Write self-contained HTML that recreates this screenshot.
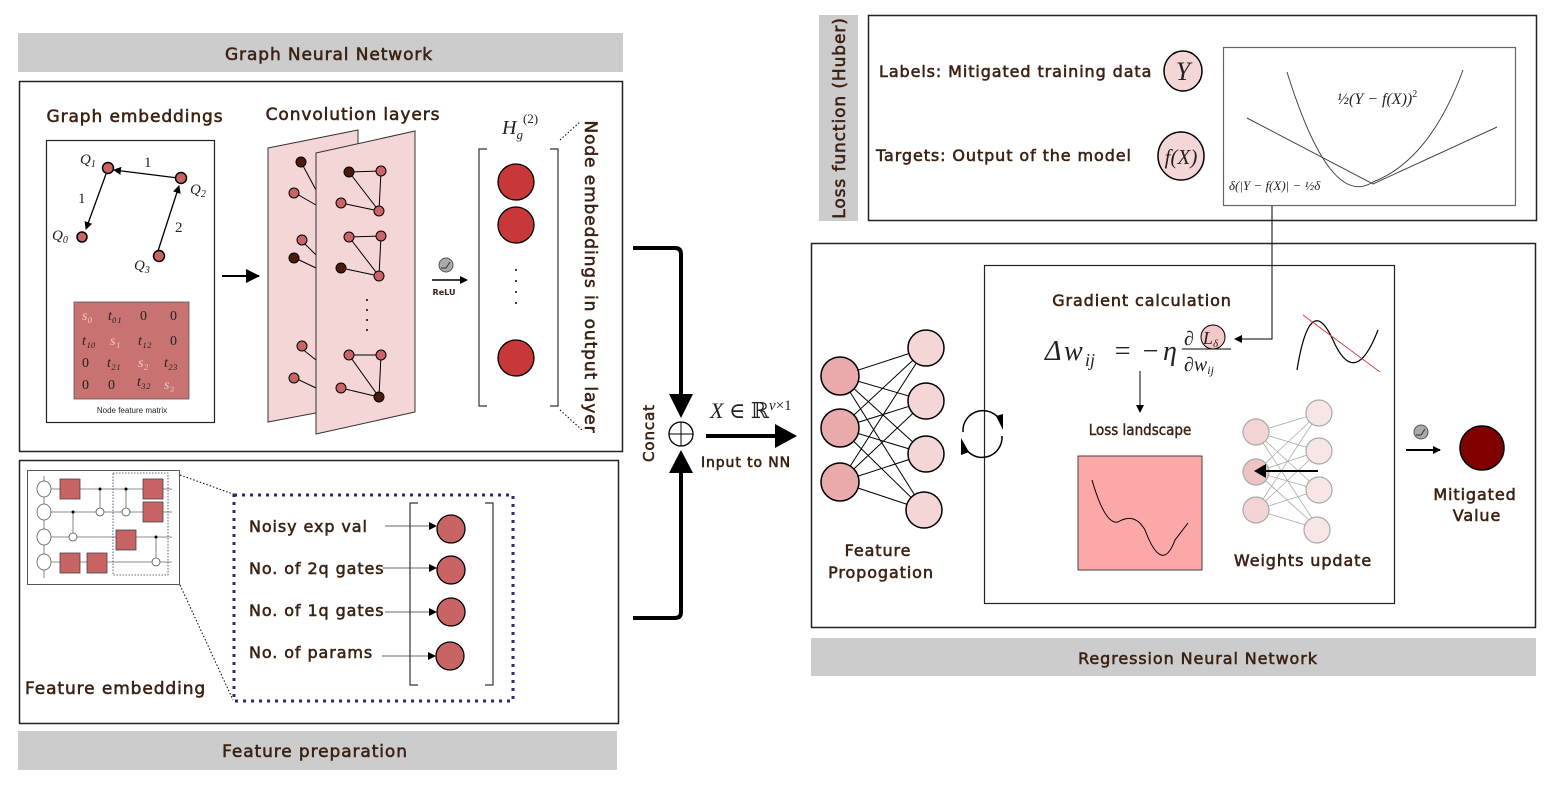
<!DOCTYPE html>
<html><head><meta charset="utf-8"><style>
html,body{margin:0;padding:0;background:#fff;}
svg{display:block;}
.t{font-family:"DejaVu Sans","Liberation Sans",sans-serif;fill:#3b2212;stroke:#3b2212;stroke-width:0.55;letter-spacing:0.9px;}
.m{font-family:"Liberation Serif","DejaVu Serif",serif;font-style:italic;fill:#222;}
</style></head><body>
<svg width="1558" height="791" viewBox="0 0 1558 791" xmlns="http://www.w3.org/2000/svg">
<defs>
<marker id="a" markerWidth="8" markerHeight="8" refX="7" refY="4" orient="auto" markerUnits="userSpaceOnUse"><path d="M0,0L8,4L0,8z" fill="#000"/></marker>
<marker id="b" markerWidth="14" markerHeight="14" refX="13" refY="7" orient="auto" markerUnits="userSpaceOnUse"><path d="M0,0L14,7L0,14z" fill="#000"/></marker>
</defs>

<!-- GNN banner -->
<rect x="18" y="33" width="605" height="39" fill="#cccccc"/>
<text x="329" y="60" class="t" font-size="17" text-anchor="middle">Graph Neural Network</text>
<rect x="19.5" y="81.5" width="603" height="370" fill="none" stroke="#222" stroke-width="1.5"/>

<text x="135" y="122" class="t" font-size="17" text-anchor="middle">Graph embeddings</text>
<rect x="46.5" y="140.5" width="168" height="282" fill="none" stroke="#222" stroke-width="1.2"/>
<g stroke="#000" stroke-width="1.3" fill="none">
<line x1="178" y1="178" x2="114" y2="170" marker-end="url(#a)"/>
<line x1="106" y1="174" x2="86" y2="229" marker-end="url(#a)"/>
<line x1="158" y1="251" x2="179" y2="186" marker-end="url(#a)"/>
</g>
<g fill="#c86464" stroke="#000" stroke-width="1.5">
<circle cx="108" cy="168" r="5.5"/><circle cx="181" cy="178" r="5.5"/><circle cx="82" cy="237" r="5"/><circle cx="159" cy="256" r="5.5"/>
</g>
<g class="m" font-size="15">
<text x="80" y="164">Q<tspan font-size="10" dy="3">1</tspan></text>
<text x="190" y="194">Q<tspan font-size="10" dy="3">2</tspan></text>
<text x="52" y="240">Q<tspan font-size="10" dy="3">0</tspan></text>
<text x="134" y="270">Q<tspan font-size="10" dy="3">3</tspan></text>
</g>
<g font-family="Liberation Serif,serif" font-size="15" fill="#222">
<text x="144" y="167">1</text><text x="78" y="203">1</text><text x="175" y="232">2</text>
</g>
<rect x="74" y="302" width="115" height="97" fill="#c87272" stroke="#555" stroke-width="0.8"/>
<g class="m" font-size="14">
<text x="82" y="320" fill="#f0c8c8">s₀</text><text x="108" y="320">t₀₁</text><text x="140" y="320" font-style="normal">0</text><text x="170" y="320" font-style="normal">0</text>
<text x="82" y="345">t₁₀</text><text x="110" y="345" fill="#f0c8c8">s₁</text><text x="138" y="345">t₁₂</text><text x="170" y="345" font-style="normal">0</text>
<text x="82" y="367" font-style="normal">0</text><text x="107" y="367">t₂₁</text><text x="138" y="367" fill="#f0c8c8">s₂</text><text x="164" y="367">t₂₃</text>
<text x="82" y="389" font-style="normal">0</text><text x="108" y="389" font-style="normal">0</text><text x="137" y="386">t₃₂</text><text x="164" y="389" fill="#f0c8c8">s₃</text>
</g>
<text x="132" y="413" font-family="Liberation Sans,sans-serif" font-size="8" fill="#222" text-anchor="middle">Node feature matrix</text>
<line x1="222" y1="276" x2="259" y2="276" stroke="#000" stroke-width="2" marker-end="url(#b)"/>

<text x="353" y="120" class="t" font-size="17" text-anchor="middle">Convolution layers</text>
<polygon points="268,148 358,130 358,405 268,422" fill="#f4d6d6" stroke="#333" stroke-width="1"/>
<g stroke="#000" stroke-width="1">
<line x1="301" y1="162" x2="316" y2="190"/><line x1="295" y1="193" x2="316" y2="205"/>
<line x1="301" y1="240" x2="316" y2="255"/><line x1="295" y1="258" x2="316" y2="268"/>
<line x1="301" y1="348" x2="316" y2="360"/><line x1="295" y1="378" x2="316" y2="388"/>
</g>
<g stroke="#000" stroke-width="1">
<circle cx="301" cy="162" r="5" fill="#4a1c08"/><circle cx="294" cy="193" r="5" fill="#c86464"/>
<circle cx="302" cy="240" r="5" fill="#c86464"/><circle cx="294" cy="258" r="5" fill="#4a1c08"/>
<circle cx="302" cy="346" r="5" fill="#c86464"/><circle cx="294" cy="378" r="5" fill="#c86464"/>
</g>
<polygon points="316,153 415,131 415,412 316,434" fill="#f4d6d6" stroke="#333" stroke-width="1"/>
<g stroke="#000" stroke-width="1" fill="none">
<path d="M349,172 L381,171 L379,211 Z M341,203 L379,211"/>
<path d="M349,237 L381,236 L379,276 Z M341,268 L379,276"/>
<path d="M349,355 L381,355 L379,397 Z M341,388 L379,397"/>
</g>
<g stroke="#000" stroke-width="1">
<circle cx="349" cy="172" r="5" fill="#4a1c08"/><circle cx="381" cy="171" r="5" fill="#c86464"/><circle cx="379" cy="211" r="5" fill="#c86464"/><circle cx="341" cy="203" r="5" fill="#c86464"/>
<circle cx="349" cy="237" r="5" fill="#c86464"/><circle cx="381" cy="236" r="5" fill="#c86464"/><circle cx="379" cy="276" r="5" fill="#c86464"/><circle cx="341" cy="268" r="5" fill="#4a1c08"/>
<circle cx="349" cy="355" r="5" fill="#c86464"/><circle cx="381" cy="355" r="5" fill="#c86464"/><circle cx="379" cy="397" r="5" fill="#4a1c08"/><circle cx="341" cy="388" r="5" fill="#c86464"/>
</g>
<g fill="#000"><circle cx="367" cy="300" r="1"/><circle cx="367" cy="310" r="1"/><circle cx="367" cy="320" r="1"/><circle cx="367" cy="330" r="1"/></g>

<circle cx="446" cy="265" r="7" fill="#aaa" stroke="#555"/><path d="M441,268 L446,268 L450,262" stroke="#333" fill="none"/>
<line x1="432" y1="280" x2="467" y2="280" stroke="#000" stroke-width="1.5" marker-end="url(#a)"/>
<text x="444" y="295" font-family="DejaVu Sans,sans-serif" font-size="8" fill="#3b2212" text-anchor="middle" font-weight="bold">ReLU</text>

<text x="502" y="134" class="m" font-size="20">H<tspan font-size="13" dy="5">g</tspan><tspan font-size="13" dy="-16" font-style="normal">(2)</tspan></text>
<path d="M487,149 L479,149 L479,406 L487,406 M550,149 L558,149 L558,406 L550,406" stroke="#333" fill="none" stroke-width="1.2"/>
<g fill="#c83838" stroke="#000" stroke-width="1.3"><circle cx="516" cy="182" r="18"/><circle cx="516" cy="225" r="18"/><circle cx="516" cy="358" r="18"/></g>
<g fill="#000"><circle cx="516" cy="270" r="1"/><circle cx="516" cy="281" r="1"/><circle cx="516" cy="292" r="1"/><circle cx="516" cy="303" r="1"/></g>
<path d="M560,140 L580,122 M560,410 L582,430" stroke="#000" stroke-dasharray="1.5,2" fill="none"/>
<text transform="translate(585,277) rotate(90)" class="t" font-size="17" text-anchor="middle">Node embeddings in output layer</text>

<!-- Feature prep -->
<rect x="19.5" y="460.5" width="599" height="263" fill="none" stroke="#222" stroke-width="1.5"/>
<rect x="18" y="731" width="599" height="39" fill="#cccccc"/>
<text x="315" y="757" class="t" font-size="17" text-anchor="middle">Feature preparation</text>
<rect x="27.5" y="470.5" width="152" height="114" fill="#fff" stroke="#555"/>
<g stroke="#666" stroke-width="0.8" fill="none">
<line x1="44" y1="489" x2="172" y2="489"/><line x1="44" y1="512" x2="172" y2="512"/><line x1="44" y1="537" x2="172" y2="537"/><line x1="44" y1="562" x2="172" y2="562"/>
<line x1="44" y1="476" x2="44" y2="578"/>
<line x1="100" y1="489" x2="100" y2="512"/><line x1="126" y1="489" x2="126" y2="512"/><line x1="73" y1="512" x2="73" y2="537"/><line x1="156" y1="537" x2="156" y2="562"/>
</g>
<g fill="#fff" stroke="#555" stroke-width="0.8">
<ellipse cx="44" cy="489" rx="7" ry="8"/><ellipse cx="44" cy="512" rx="7" ry="8"/><ellipse cx="44" cy="537" rx="7" ry="8"/><ellipse cx="44" cy="562" rx="7" ry="8"/>
<circle cx="100" cy="512" r="4"/><circle cx="126" cy="512" r="4"/><circle cx="73" cy="537" r="4"/><circle cx="156" cy="562" r="4"/>
</g>
<g fill="#000"><circle cx="100" cy="489" r="1.5"/><circle cx="126" cy="489" r="1.5"/><circle cx="73" cy="512" r="1.5"/><circle cx="156" cy="537" r="1.5"/></g>
<g fill="#c86464" stroke="#444" stroke-width="0.8">
<rect x="60" y="479" width="20" height="20"/><rect x="143" y="479" width="20" height="20"/><rect x="143" y="502" width="20" height="20"/><rect x="116" y="530" width="20" height="20"/><rect x="60" y="553" width="20" height="20"/><rect x="87" y="553" width="20" height="20"/>
</g>
<rect x="113" y="473" width="55" height="102" fill="none" stroke="#336" stroke-width="0.8" stroke-dasharray="1.5,1.5"/>
<path d="M180,475 L233,494 M180,585 L233,700" stroke="#000" stroke-dasharray="1.5,2" fill="none"/>
<rect x="234" y="495" width="279" height="206" fill="none" stroke="#2a2a6a" stroke-width="3" stroke-dasharray="3,5"/>
<g class="t" font-size="16">
<text x="249" y="532">Noisy exp val</text><text x="249" y="574">No. of 2q gates</text><text x="249" y="616">No. of 1q gates</text><text x="249" y="658">No. of params</text>
</g>
<path d="M418,503 L410,503 L410,685 L418,685 M485,503 L493,503 L493,685 L485,685" stroke="#333" fill="none" stroke-width="1.2"/>
<g stroke="#333" stroke-width="0.8">
<line x1="385" y1="526" x2="436" y2="526" marker-end="url(#a)"/><line x1="383" y1="568" x2="436" y2="568" marker-end="url(#a)"/><line x1="385" y1="612" x2="436" y2="612" marker-end="url(#a)"/><line x1="382" y1="656" x2="435" y2="656" marker-end="url(#a)"/>
</g>
<g fill="#c86464" stroke="#000" stroke-width="1.3"><circle cx="451" cy="529" r="14"/><circle cx="451" cy="570" r="14"/><circle cx="451" cy="612" r="14"/><circle cx="450" cy="656" r="14"/></g>
<text x="25" y="694" class="t" font-size="17">Feature embedding</text>

<!-- concat -->
<path d="M633,248 L675,248 Q681,248 681,254 L681,396" stroke="#000" stroke-width="4" fill="none"/>
<polygon points="669,394 693,394 681,418" fill="#000"/>
<path d="M633,618 L675,618 Q681,618 681,612 L681,470" stroke="#000" stroke-width="4" fill="none"/>
<polygon points="669,473 693,473 681,450" fill="#000"/>
<circle cx="681" cy="434" r="12" fill="#fff" stroke="#000" stroke-width="1.3"/><path d="M669,434 L693,434 M681,422 L681,446" stroke="#000"/>
<text transform="translate(654,433) rotate(-90)" class="t" font-size="15" text-anchor="middle">Concat</text>
<line x1="706" y1="436" x2="778" y2="436" stroke="#000" stroke-width="4"/><polygon points="775,424 797,436 775,448" fill="#000"/>
<text x="710" y="418" class="m" font-size="22">X <tspan font-style="normal">∈ ℝ</tspan><tspan font-size="15" dy="-8">v</tspan><tspan font-size="15" font-style="normal">×1</tspan></text>
<text x="746" y="467" class="t" font-size="14" text-anchor="middle">Input to NN</text>

<!-- Loss -->
<rect x="819" y="15" width="39" height="206" fill="#cccccc"/>
<text transform="translate(845,118) rotate(-90)" class="t" font-size="17" text-anchor="middle">Loss function (Huber)</text>
<rect x="868.5" y="15.5" width="668" height="205" fill="none" stroke="#222" stroke-width="1.5"/>
<text x="879" y="77" class="t" font-size="16">Labels: Mitigated training data</text>
<text x="876" y="161" class="t" font-size="16">Targets: Output of the model</text>
<ellipse cx="1183" cy="71" rx="19" ry="20" fill="#f4d6d6" stroke="#000" stroke-width="1.5"/>
<text x="1183" y="80" class="m" font-size="26" text-anchor="middle">Y</text>
<ellipse cx="1181" cy="156" rx="23" ry="24" fill="#f4d6d6" stroke="#000" stroke-width="1.5"/>
<text x="1181" y="164" class="m" font-size="21" text-anchor="middle">f(X)</text>
<rect x="1223.5" y="47.5" width="292" height="158" fill="#fff" stroke="#666" stroke-width="1.2"/>
<path d="M1247,118 L1373,184 L1497,127" stroke="#444" fill="none"/>
<path d="M1287,72 Q1330,210 1373,182 Q1430,160 1463,70" stroke="#444" fill="none"/>
<text x="1337" y="104" class="m" font-size="16">½(Y − f(X))<tspan font-size="10" dy="-7" font-style="normal">2</tspan></text>
<text x="1229" y="190" class="m" font-size="13">δ(|Y − f(X)| − ½δ</text>
<path d="M1272,206 L1272,339 L1235,339" stroke="#000" stroke-width="1" fill="none" marker-end="url(#a)"/>

<!-- Regression -->
<rect x="811.5" y="243.5" width="724" height="384" fill="none" stroke="#222" stroke-width="1.5"/>
<rect x="811" y="638" width="725" height="38" fill="#cccccc"/>
<text x="1198" y="664" class="t" font-size="16" text-anchor="middle">Regression Neural Network</text>
<rect x="984.5" y="265.5" width="410" height="338" fill="none" stroke="#222" stroke-width="1.2"/>
<g stroke="#000" stroke-width="1">
<path d="M840,376 L926,348 M840,376 L926,401 M840,376 L926,454 M840,376 L924,510 M840,428 L926,348 M840,428 L926,401 M840,428 L926,454 M840,428 L924,510 M840,482 L926,348 M840,482 L926,401 M840,482 L926,454 M840,482 L924,510"/>
</g>
<g stroke="#000" stroke-width="1.5">
<circle cx="840" cy="376" r="19" fill="#e8aaaa"/><circle cx="840" cy="428" r="19" fill="#e8aaaa"/><circle cx="840" cy="482" r="19" fill="#e8aaaa"/>
<circle cx="926" cy="348" r="18" fill="#f4d6d6"/><circle cx="926" cy="401" r="18" fill="#f4d6d6"/><circle cx="926" cy="454" r="18" fill="#f4d6d6"/><circle cx="924" cy="510" r="18" fill="#f4d6d6"/>
</g>
<text x="878" y="556" class="t" font-size="16" text-anchor="middle">Feature</text>
<text x="881" y="578" class="t" font-size="16" text-anchor="middle">Propogation</text>
<path d="M963,432 A20,20 0 0 1 1001,422 M1002,436 A20,20 0 0 1 964,446" stroke="#000" stroke-width="1.5" fill="none"/>
<polygon points="996,416 1003,430 1003,414" fill="#000"/><polygon points="969,452 961,438 961,455" fill="#000"/>
<text x="1142" y="306" class="t" font-size="16" text-anchor="middle">Gradient calculation</text>
<text x="1045" y="360" class="m" font-size="28" font-style="normal">Δ</text>
<text x="1064" y="360" class="m" font-size="28">w</text>
<text x="1085" y="366" class="m" font-size="18">ij</text>
<text x="1113" y="360" class="m" font-size="28" font-style="normal">=</text>
<text x="1141" y="360" class="m" font-size="28" font-style="normal">−</text>
<text x="1163" y="360" class="m" font-size="28">η</text>
<line x1="1182" y1="349" x2="1231" y2="349" stroke="#000" stroke-width="1"/>
<text x="1184" y="345" class="m" font-size="20" font-style="normal">∂</text>
<circle cx="1213" cy="337" r="12" fill="#f4c8c8" stroke="#000"/>
<text x="1203" y="344" class="m" font-size="18">L<tspan font-size="11" dy="3">δ</tspan></text>
<text x="1184" y="371" class="m" font-size="20"><tspan font-style="normal">∂</tspan>w<tspan font-size="12" dy="3">ij</tspan></text>
<path d="M1297,370 Q1310,290 1333,340 Q1355,390 1378,330" stroke="#000" fill="none" stroke-width="1.2"/>
<line x1="1303" y1="315" x2="1380" y2="372" stroke="#e03030" stroke-width="0.8"/>
<line x1="1140" y1="371" x2="1140" y2="412" stroke="#000" marker-end="url(#a)"/>
<text x="1140" y="435" font-family="DejaVu Sans Condensed,DejaVu Sans,sans-serif" font-size="15" fill="#3b2212" stroke="#3b2212" stroke-width="0.4" text-anchor="middle">Loss landscape</text>
<rect x="1078" y="456" width="124" height="114" fill="#fda8a8" stroke="#444"/>
<path d="M1092,480 Q1105,525 1118,522 Q1135,512 1145,530 Q1162,575 1175,540 L1188,523" stroke="#000" fill="none"/>
<g stroke="#aaa" stroke-width="0.8">
<path d="M1256,432 L1319,413 M1256,432 L1319,451 M1256,432 L1319,490 M1256,432 L1319,529 M1256,472 L1319,413 M1256,472 L1319,451 M1256,472 L1319,490 M1256,472 L1319,529 M1256,510 L1319,413 M1256,510 L1319,451 M1256,510 L1319,490 M1256,510 L1319,529"/>
</g>
<g stroke="#aaa" stroke-width="1.2">
<circle cx="1256" cy="432" r="13" fill="#f2d4d4"/><circle cx="1256" cy="472" r="13" fill="#ecc4c4"/><circle cx="1256" cy="510" r="13" fill="#f2d4d4"/>
<circle cx="1319" cy="413" r="13" fill="#f8e6e6"/><circle cx="1319" cy="451" r="13" fill="#f8e6e6"/><circle cx="1319" cy="490" r="13" fill="#f8e6e6"/><circle cx="1317" cy="530" r="13" fill="#f8e6e6"/>
</g>
<line x1="1318" y1="471" x2="1258" y2="471" stroke="#000" stroke-width="2"/><polygon points="1254,471 1266,464 1266,478" fill="#000"/>
<text x="1303" y="566" class="t" font-size="16" text-anchor="middle">Weights update</text>
<circle cx="1421" cy="432" r="7" fill="#aaa" stroke="#555"/><path d="M1416,435 L1421,435 L1425,429" stroke="#333" fill="none"/>
<line x1="1406" y1="450" x2="1440" y2="450" stroke="#000" stroke-width="2" marker-end="url(#a)"/>
<circle cx="1482" cy="448" r="22" fill="#800000" stroke="#000" stroke-width="1.5"/>
<text x="1475" y="500" class="t" font-size="16" text-anchor="middle">Mitigated</text>
<text x="1477" y="521" class="t" font-size="16" text-anchor="middle">Value</text>
</svg>
</body></html>
